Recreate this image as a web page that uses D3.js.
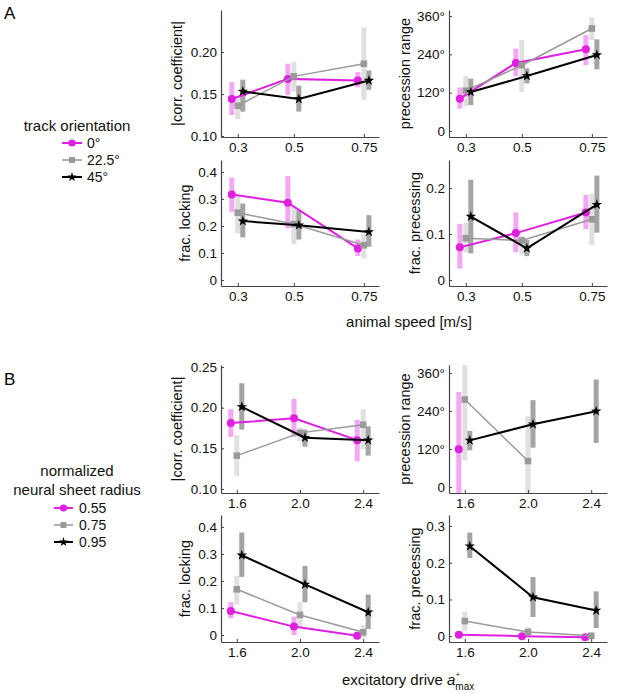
<!DOCTYPE html>
<html>
<head>
<meta charset="utf-8">
<script src="https://cdn.jsdelivr.net/npm/d3@7"></script>
<style>
  body { margin: 0; background: #fff; }
  text { font-family: "Liberation Sans", Arial, Helvetica, sans-serif; }
</style>
</head>
<body>
<svg id="chart" width="617" height="694"></svg>
<script>
// x values and labels
const speeds = [0.3, 0.5, 0.75];
const speedLabels = ["0.3", "0.5", "0.75"];
const drives = [1.6, 2.0, 2.4];
const driveLabels = ["1.6", "2.0", "2.4"];

// legend entries
const orientations = ["0°", "22.5°", "45°"];
const radii = ["0.55", "0.75", "0.95"];

// each series: one [mean, low, high] per x value (null = no data)
// panel A (track orientation 0°, 22.5°, 45°)
const corrA = [
  [[0.144, 0.125, 0.164], [0.168, 0.149, 0.186], [0.166, 0.158, 0.176]],
  [[0.136, 0.120, 0.147], [0.171, 0.153, 0.188], [0.186, 0.143, 0.229]],
  [[0.153, 0.129, 0.167], [0.144, 0.129, 0.160], [0.166, 0.155, 0.178]]
];
const rangeA = [
  [[101, 70, 136], [213, 172, 258], [256, 206, 300]],
  [[126, 77, 172], [206, 122, 285], [321, 285, 356]],
  [[122, 81, 164], [172, 149, 196], [238, 193, 287]]
];
const lockA = [
  [[0.316, 0.252, 0.379], [0.286, 0.191, 0.384], [0.117, 0.089, 0.150]],
  [[0.249, 0.172, 0.308], [0.207, 0.133, 0.271], [0.129, 0.080, 0.172]],
  [[0.218, 0.158, 0.283], [0.203, 0.150, 0.258], [0.178, 0.123, 0.240]]
];
const precA = [
  [[0.071, 0.025, 0.122], [0.102, 0.060, 0.147], [0.147, 0.111, 0.185]],
  [[0.091, 0.060, 0.124], [0.086, 0.055, 0.095], [0.132, 0.076, 0.188]],
  [[0.138, 0.058, 0.218], [0.069, 0.052, 0.087], [0.164, 0.103, 0.227]]
];

// panel B (neural sheet radius 0.55, 0.75, 0.95)
const corrB = [
  [[0.181, 0.164, 0.198], [0.187, 0.164, 0.211], [0.160, 0.134, 0.185]],
  [[0.141, 0.116, 0.166], [0.169, 0.159, 0.176], [0.179, 0.149, 0.198]],
  [[0.201, 0.173, 0.230], [0.163, 0.152, 0.173], [0.160, 0.141, 0.177]]
];
const rangeB = [
  [[119, -20, 300], null, null],
  [[276, 84, 390], [82, -20, 223], null],
  [[147, 116, 177], [198, 124, 274], [239, 139, 339]]
];
const lockB = [
  [[0.089, 0.062, 0.121], [0.031, 0.0, 0.068], [-0.003, -0.01, 0.006]],
  [[0.169, 0.113, 0.219], [0.074, 0.034, 0.121], [0.010, -0.01, 0.037]],
  [[0.295, 0.215, 0.379], [0.187, 0.121, 0.256], [0.084, 0.022, 0.150]]
];
const precB = [
  [[0.004, 0.0, 0.008], [0.0, -0.003, 0.003], [-0.003, -0.006, 0.0]],
  [[0.041, 0.015, 0.067], [0.011, 0.0, 0.025], [0.001, -0.004, 0.006]],
  [[0.245, 0.213, 0.282], [0.106, 0.052, 0.161], [0.070, 0.022, 0.122]]
];

const lineColors = ["#e01fe0", "#999999", "#000000"];
const barColors = ["#f5a6f5", "#e0e0e0", "#a4a4a4"];
const lineWidths = [2, 1.5, 2];
const offsets = [-6, 0, 5]; // sideways shift of each series, px
const axisColor = "#444";

const svg = d3.select("#chart");

const fmtDeg = d => d === 0 ? "0" : d + "°";
const fmt2 = d3.format(".2f");
const fmtFrac = d => d === 0 ? "0" : d3.format(".1f")(d);

const panels = [
  { data: corrA, xs: speeds, xl: speedLabels, xd: [0.24, 0.804], left: 221, top: 10, h: 127,
    yd: [0.0988, 0.25], yt: [0.10, 0.15, 0.20], yf: fmt2, label: "|corr. coefficient|", lx: 177 },
  { data: rangeA, xs: speeds, xl: speedLabels, xd: [0.24, 0.804], left: 449, top: 10, h: 127,
    yd: [-19, 379], yt: [0, 120, 240, 360], yf: fmtDeg, label: "precession range", lx: 405 },
  { data: lockA, xs: speeds, xl: speedLabels, xd: [0.24, 0.804], left: 221, top: 160, h: 126,
    yd: [-0.022, 0.444], yt: [0, 0.1, 0.2, 0.3, 0.4], yf: fmtFrac, label: "frac. locking", lx: 185 },
  { data: precA, xs: speeds, xl: speedLabels, xd: [0.24, 0.804], left: 449, top: 160, h: 126,
    yd: [-0.013, 0.261], yt: [0, 0.1, 0.2], yf: fmtFrac, label: "frac. precessing", lx: 415 },
  { data: corrB, xs: drives, xl: driveLabels, xd: [1.5, 2.5], left: 221, top: 365, h: 128,
    yd: [0.095, 0.2525], yt: [0.10, 0.15, 0.20, 0.25], yf: fmt2, label: "|corr. coefficient|", lx: 177 },
  { data: rangeB, xs: drives, xl: driveLabels, xd: [1.5, 2.5], left: 449, top: 365, h: 128,
    yd: [-19, 385], yt: [0, 120, 240, 360], yf: fmtDeg, label: "precession range", lx: 405 },
  { data: lockB, xs: drives, xl: driveLabels, xd: [1.5, 2.5], left: 221, top: 515, h: 127,
    yd: [-0.026, 0.444], yt: [0, 0.1, 0.2, 0.3, 0.4], yf: fmtFrac, label: "frac. locking", lx: 185 },
  { data: precB, xs: drives, xl: driveLabels, xd: [1.5, 2.5], left: 449, top: 515, h: 127,
    yd: [-0.016, 0.33], yt: [0, 0.1, 0.2, 0.3], yf: fmtFrac, label: "frac. precessing", lx: 415 }
];

function marker(sel, s, k) {
  if (s === 0) {
    sel.append("circle").attr("r", 4 * k).attr("fill", lineColors[0]);
  } else if (s === 1) {
    sel.append("rect").attr("x", -3.3 * k).attr("y", -3.3 * k)
      .attr("width", 6.6 * k).attr("height", 6.6 * k).attr("fill", lineColors[1]);
  } else {
    sel.append("path").attr("d", d3.symbol(d3.symbolStar, 34 * k * k)())
      .attr("fill", "#000");
  }
}

panels.forEach((p, pi) => {
  const w = 158;
  const g = svg.append("g").attr("transform", `translate(${p.left},${p.top})`);
  const x = d3.scaleLinear().domain(p.xd).range([0, w]);
  const y = d3.scaleLinear().domain(p.yd).range([p.h, 0]);

  const clipId = "clip" + pi;
  g.append("clipPath").attr("id", clipId)
    .append("rect").attr("x", -10).attr("y", 0).attr("width", w + 20).attr("height", p.h);

  const plot = g.append("g").attr("clip-path", `url(#${clipId})`);

  // error bars first
  p.data.forEach((series, s) => {
    series.forEach((v, i) => {
      if (!v) return;
      plot.append("rect")
        .attr("x", x(p.xs[i]) + offsets[s] - 2.5)
        .attr("y", y(v[2]))
        .attr("width", 5)
        .attr("height", Math.max(1, y(v[1]) - y(v[2])))
        .attr("fill", barColors[s]);
    });
  });

  // lines and markers
  p.data.forEach((series, s) => {
    const pts = series.map((v, i) => v ? { x: x(p.xs[i]) + offsets[s], y: y(v[0]) } : null);
    const line = d3.line().defined(d => d).x(d => d.x).y(d => d.y);
    plot.append("path").datum(pts)
      .attr("d", line)
      .attr("fill", "none")
      .attr("stroke", lineColors[s])
      .attr("stroke-width", lineWidths[s]);
    pts.forEach(d => {
      if (!d) return;
      plot.append("g").attr("transform", `translate(${d.x},${d.y})`).call(sel => marker(sel, s, 1));
    });
  });

  // axes
  const yAxis = d3.axisLeft(y).tickValues(p.yt).tickFormat(p.yf)
    .tickSizeInner(-3).tickSizeOuter(0).tickPadding(4);
  const xAxis = d3.axisBottom(x).tickValues(p.xs).tickFormat((d, i) => p.xl[i])
    .tickSizeInner(-3).tickSizeOuter(0).tickPadding(5);

  const ya = g.append("g").call(yAxis);
  const xa = g.append("g").attr("transform", `translate(0,${p.h})`).call(xAxis);
  [ya, xa].forEach(a => {
    a.select(".domain").attr("stroke", axisColor).attr("stroke-width", 1.2);
    a.selectAll(".tick line").attr("stroke", axisColor);
    a.selectAll("text").attr("fill", "#111").style("font-size", "13.5px")
      .style("font-family", '"Liberation Sans", Arial, sans-serif');
  });

  svg.append("text")
    .attr("transform", `translate(${p.lx + 5},${p.top + p.h / 2}) rotate(-90)`)
    .attr("text-anchor", "middle")
    .style("font-size", "14.5px")
    .attr("fill", "#111")
    .text(p.label);
});

// panel letters
svg.append("text").attr("x", 4).attr("y", 19).style("font-size", "17px").text("A");
svg.append("text").attr("x", 4).attr("y", 385).style("font-size", "17px").text("B");

// x axis titles
svg.append("text").attr("x", 409).attr("y", 327).attr("text-anchor", "middle")
  .style("font-size", "15px").attr("fill", "#111").text("animal speed [m/s]");

const xt = svg.append("text").attr("x", 342).attr("y", 685)
  .style("font-size", "15px").attr("fill", "#111");
xt.append("tspan").text("excitatory drive ");
xt.append("tspan").style("font-style", "italic").text("a");
xt.append("tspan").attr("dy", -8).style("font-size", "8px").text("+");
xt.append("tspan").attr("dy", 13).attr("dx", -4.7).style("font-size", "10px").text("max");

// legends
function legend(titles, titleY, labels, rowY, x0, x1, tx) {
  titles.forEach((t, i) => {
    svg.append("text").attr("x", 77).attr("y", titleY + i * 19).attr("text-anchor", "middle")
      .style("font-size", "15px").attr("fill", "#111").text(t);
  });
  labels.forEach((lab, s) => {
    const yy = rowY + s * 17;
    svg.append("line").attr("x1", x0).attr("x2", x1).attr("y1", yy).attr("y2", yy)
      .attr("stroke", lineColors[s]).attr("stroke-width", lineWidths[s]);
    svg.append("g").attr("transform", `translate(${(x0 + x1) / 2},${yy})`).call(sel => marker(sel, s, 0.9));
    svg.append("text").attr("x", tx).attr("y", yy + 4.5)
      .style("font-size", "14px").attr("fill", "#111").text(lab);
  });
}
legend(["track orientation"], 131, orientations, 143, 62, 82, 87);
legend(["normalized", "neural sheet radius"], 476, radii, 508, 54, 73, 79);
</script>
</body>
</html>
